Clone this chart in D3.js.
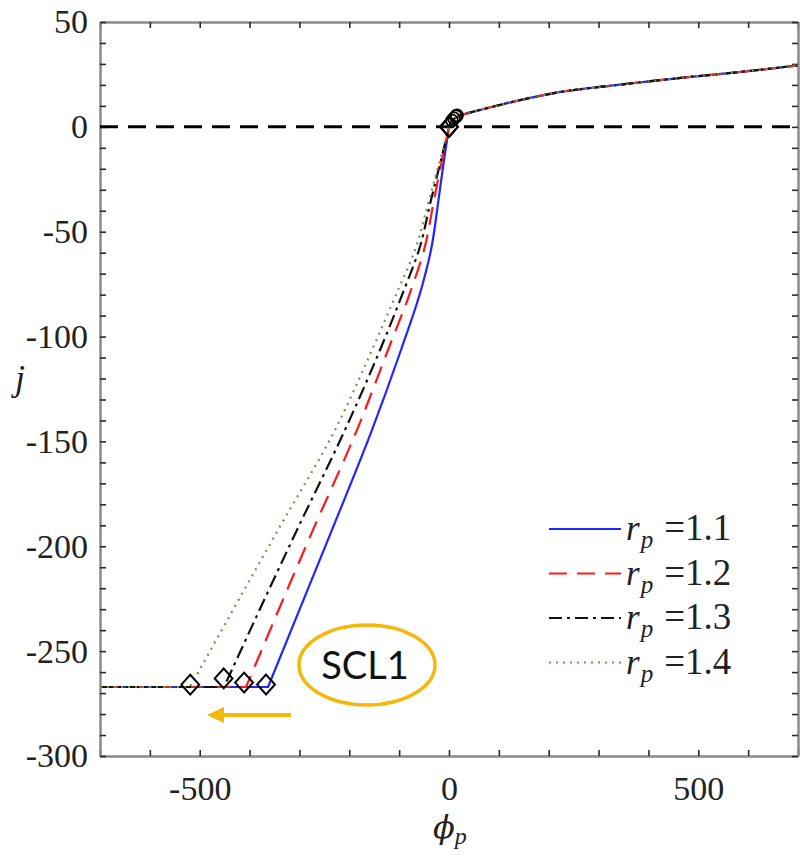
<!DOCTYPE html>
<html>
<head>
<meta charset="utf-8">
<script src="https://cdn.jsdelivr.net/npm/d3@7"></script>
<style>
  html, body { margin: 0; padding: 0; background: #fff; }
  svg { display: block; }
</style>
</head>
<body>
<script>
// Current density j versus probe potential phi_p for four probe radii r_p.
const seriesNames = ["1.1", "1.2", "1.3", "1.4"];
const seriesColors = ["#2424ff", "#ff1a1a", "#111111", "#6f9a40"];
const seriesDash = [null, "18,10", "13,5,3,5", "2,5"];

// Saturated floor level (left of each diamond).
const floorJ = -267.1;
const floorStartPhi = -700;

// Lower branch: j samples shared by all series, phi per series.
const lowerJ = [-267.1, -192.2, -144.5, -106.4, -77.8, -58.7, -34.9, -15.8, 0];
const lowerPhi11 = [-363, -234.7, -154.4, -96.3, -56.2, -36.1, -21.1, -10.0, 0];
const lowerPhi12 = [-407.1, -272.8, -184.5, -122.3, -76.2, -50.1, -30.1, -14.0, 0];
const lowerPhi13 = [-451.3, -304.9, -208.6, -138.4, -90.3, -60.2, -36.1, -16.0, 0];
const lowerPhi14 = [-519.5, -343.0, -228.6, -154.4, -102.3, -68.2, -40.1, -18.1, 0];
const lowerPhi = [lowerPhi11, lowerPhi12, lowerPhi13, lowerPhi14];

// Upper branch (electron side), common to every r_p.
const upperPhi = [0, 5, 15, 30, 50, 108, 208, 342, 475, 609, 700];
const upperJ = [0, 2.5, 4.5, 6.0, 7.3, 10.8, 16.0, 20.1, 23.6, 26.8, 29.3];

// Transition markers.
const diamondPhi = [-367, -411, -452, -519];
const diamondJ = [-265.9, -265.0, -263.0, -266.0];
const originCirclePhi = [16, 14, 10, 6];
const originCircleJ = [5.5, 5.0, 4.0, 3.0];

// Axis ticks.
const xMajorTicks = [-500, 0, 500];
const xMinorTicks = d3.range(-700, 701, 100);
const yMajorTicks = [-300, -250, -200, -150, -100, -50, 0, 50];
const yMinorTicks = d3.range(-300, 51, 10);

const W = 800, H = 856;
const mLeft = 100, mRight = 798, mTop = 22, mBottom = 756;

const svg = d3.select("body").append("svg").attr("width", W).attr("height", H);

const x = d3.scaleLinear().domain([-700, 700]).range([mLeft, mRight]);
const y = d3.scaleLinear().domain([-300, 50]).range([mBottom, mTop]);

svg.append("defs").append("clipPath").attr("id", "plot-clip")
  .append("rect").attr("x", mLeft).attr("y", mTop).attr("width", mRight - mLeft).attr("height", mBottom - mTop);

const serif = "'Liberation Serif', 'DejaVu Serif', serif";

// Axes: ticks point inward on all four sides.
function styleAxis(g) {
  g.select(".domain").attr("stroke", "#8a8a8a").attr("stroke-width", 2.5);
  g.selectAll(".tick line").attr("stroke", "#2a2a2a").attr("stroke-width", 1.6);
  g.selectAll(".tick text").attr("font-family", serif).attr("font-size", 34).attr("fill", "#222");
}
const fmtX = d => xMajorTicks.includes(d) ? String(d) : "";
const fmtY = d => yMajorTicks.includes(d) ? String(d) : "";

svg.append("g").attr("transform", `translate(0,${mBottom})`)
  .call(d3.axisBottom(x).tickValues(xMinorTicks).tickFormat(fmtX).tickSize(-6).tickSizeOuter(0).tickPadding(20))
  .call(styleAxis);
svg.append("g").attr("transform", `translate(0,${mTop})`)
  .call(d3.axisTop(x).tickValues(xMinorTicks).tickFormat("").tickSize(-6).tickSizeOuter(0))
  .call(styleAxis);
svg.append("g").attr("transform", `translate(${mLeft},0)`)
  .call(d3.axisLeft(y).tickValues(yMinorTicks).tickFormat(fmtY).tickSize(-6).tickSizeOuter(0).tickPadding(12))
  .call(styleAxis);
svg.append("g").attr("transform", `translate(${mRight},0)`)
  .call(d3.axisRight(y).tickValues(yMinorTicks).tickFormat("").tickSize(-6).tickSizeOuter(0))
  .call(styleAxis);

const plot = svg.append("g").attr("clip-path", "url(#plot-clip)");

// Zero reference line.
plot.append("line")
  .attr("x1", x(-700)).attr("x2", x(700)).attr("y1", y(0)).attr("y2", y(0))
  .attr("stroke", "#000").attr("stroke-width", 3).attr("stroke-dasharray", "18,10");

// Each curve = flat floor + lower branch (smooth in j) + upper branch (smooth in phi),
// joined into a single path so the dash pattern runs continuously.
const floorLine = d3.line().x(d => x(d[0])).y(d => y(d[1]));
const lowerLine = d3.line().x(d => x(d[0])).y(d => y(d[1])).curve(d3.curveMonotoneY);
const upperLine = d3.line().x(d => x(d[0])).y(d => y(d[1])).curve(d3.curveMonotoneX);
const cont = s => s.replace(/^M/, "L");

seriesNames.forEach((name, i) => {
  const lower = lowerPhi[i].map((p, k) => [p, lowerJ[k]]);
  const upper = upperPhi.map((p, k) => [p, upperJ[k]]);
  const floor = [[floorStartPhi, floorJ], lower[0]];
  const d = floorLine(floor) + cont(lowerLine(lower)) + cont(upperLine(upper));
  const path = plot.append("path").attr("d", d).attr("fill", "none")
    .attr("stroke", seriesColors[i]).attr("stroke-width", 2.2).attr("stroke-linejoin", "round");
  if (seriesDash[i]) path.attr("stroke-dasharray", seriesDash[i]);
});

// Markers: open diamonds and circles.
const diamondType = {
  draw(ctx, size) {
    const h = Math.sqrt(size) * 0.74, w = h * 0.9;
    ctx.moveTo(0, -h); ctx.lineTo(w, 0); ctx.lineTo(0, h); ctx.lineTo(-w, 0); ctx.closePath();
  }
};
const diamond = d3.symbol().type(diamondType).size(180);
seriesNames.forEach((name, i) => {
  plot.append("path").attr("d", diamond)
    .attr("transform", `translate(${x(diamondPhi[i])},${y(diamondJ[i])})`)
    .attr("fill", "none").attr("stroke", "#000").attr("stroke-width", 2);
  plot.append("path").attr("d", diamond)
    .attr("transform", `translate(${x(0)},${y(0)})`)
    .attr("fill", "none").attr("stroke", "#000").attr("stroke-width", 1.8);
  plot.append("circle")
    .attr("cx", x(originCirclePhi[i])).attr("cy", y(originCircleJ[i])).attr("r", 6)
    .attr("fill", "none").attr("stroke", "#000").attr("stroke-width", 1.8);
});

// Legend.
const legX1 = 549, legX2 = 621, legY0 = 529, legDy = 44.5;
seriesNames.forEach((name, i) => {
  const ly = legY0 + i * legDy;
  const l = svg.append("line").attr("x1", legX1).attr("x2", legX2).attr("y1", ly).attr("y2", ly)
    .attr("stroke", seriesColors[i]).attr("stroke-width", 2.2);
  if (seriesDash[i]) l.attr("stroke-dasharray", seriesDash[i]);
  const t = svg.append("text").attr("x", 626).attr("y", ly + 11)
    .attr("font-family", serif).attr("font-size", 35).attr("fill", "#222");
  t.append("tspan").attr("font-style", "italic").text("r");
  t.append("tspan").attr("font-style", "italic").attr("font-size", 25).attr("dy", 8).attr("dx", 1).text("p");
  t.append("tspan").attr("dy", -8).attr("dx", 11).attr("font-size", 37).text("=" + name);
});

// Axis titles.
const xl = svg.append("text").attr("x", 433).attr("y", 838)
  .attr("font-family", "'DejaVu Serif', serif").attr("font-size", 32).attr("fill", "#222");
xl.append("tspan").attr("font-style", "italic").text("\u03D5");
xl.append("tspan").attr("font-family", serif).attr("font-style", "italic").attr("font-size", 24).attr("dy", 6).text("p");

svg.append("text").attr("x", 20).attr("y", 390).attr("text-anchor", "middle")
  .attr("font-family", serif).attr("font-style", "italic").attr("font-size", 36).attr("fill", "#222").text("j");

// Annotation: saturation label and shift direction.
const gold = "#f5b70a";
svg.append("ellipse").attr("cx", 367).attr("cy", 665).attr("rx", 68).attr("ry", 40)
  .attr("fill", "none").attr("stroke", gold).attr("stroke-width", 3.5);
svg.append("text").attr("x", 365).attr("y", 679).attr("text-anchor", "middle")
  .attr("font-family", "Lato, 'Open Sans', sans-serif").attr("font-size", 38).attr("fill", "#111").text("SCL1");
svg.append("line").attr("x1", 291).attr("x2", 220).attr("y1", 715).attr("y2", 715)
  .attr("stroke", gold).attr("stroke-width", 4);
svg.append("path").attr("d", "M207,715 L224,707 L224,723 Z").attr("fill", gold);
</script>
</body>
</html>
